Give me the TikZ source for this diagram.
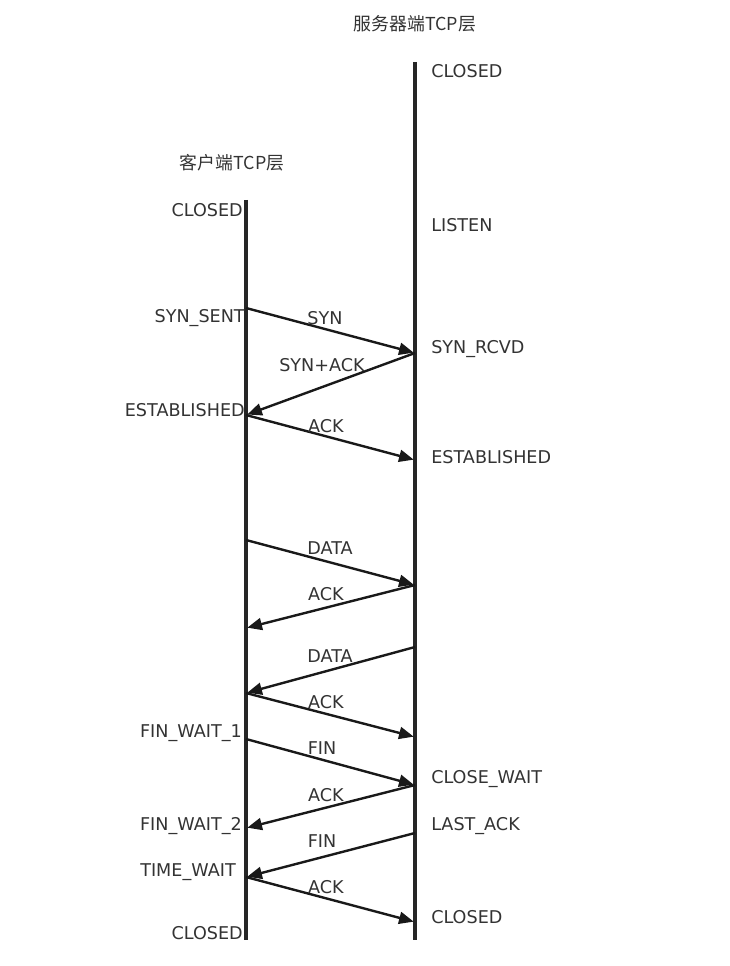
\documentclass[tikz,border=0pt]{standalone}
\usepackage{fontspec}
\setmainfont{DejaVu Sans}
\newfontfamily\cjk{Noto Sans CJK SC}
\usetikzlibrary{arrows.meta}
\begin{document}
\begin{tikzpicture}[x=0.75pt,y=-0.75pt,
  life/.style={line width=2.6pt,color=black!85},
  msg/.style={line width=1.8pt,color=black!90,-{Triangle[length=11pt,width=9pt]},shorten >=1pt},
  lbl/.style={font=\fontsize{13.2}{15}\selectfont,text=black!80,inner sep=0pt},
  st/.style={lbl},
  ttl/.style={font=\cjk\fontsize{13.4}{15}\selectfont,text=black!80,inner sep=0pt}]
\useasboundingbox (0,0) rectangle (730,966);
% titles
\node[ttl] (ts) at (415,24) {服务器端TCP层};
\node[ttl] (tc) at (232,163) {客户端TCP层};
% lifelines
\coordinate (ctop) at (246,200);
\coordinate (cbot) at (246,940);
\coordinate (stop) at (415,62);
\coordinate (sbot) at (415,940);
\draw[life] (ctop) -- (cbot);
\draw[life] (stop) -- (sbot);
% points on lifelines
\foreach \y in {308,415,540,628,693,739,828,877} \coordinate (c\y) at (246,\y);
\foreach \y in {353,460,585,647,737,785,833,922} \coordinate (s\y) at (415,\y);
% messages
\draw[msg] (c308) -- (s353);
\draw[msg] (s353) -- (c415);
\draw[msg] (c415) -- (s460);
\draw[msg] (c540) -- (s585);
\draw[msg] (s585) -- (c628);
\draw[msg] (s647) -- (c693);
\draw[msg] (c693) -- (s737);
\draw[msg] (c739) -- (s785);
\draw[msg] (s785) -- (c828);
\draw[msg] (s833) -- (c877);
\draw[msg] (c877) -- (s922);
% message labels
\node[lbl] (m1) at (325,318) {SYN};
\node[lbl] (m2) at (322,365) {SYN+ACK};
\node[lbl] (m3) at (326,426) {ACK};
\node[lbl] (m4) at (330,548) {DATA};
\node[lbl] (m5) at (326,594) {ACK};
\node[lbl] (m6) at (330,656) {DATA};
\node[lbl] (m7) at (326,702) {ACK};
\node[lbl] (m8) at (322,748) {FIN};
\node[lbl] (m9) at (326,795) {ACK};
\node[lbl] (m10) at (322,841) {FIN};
\node[lbl] (m11) at (326,887) {ACK};
% server states
\node[st,anchor=west] (s1) at (431,71) {CLOSED};
\node[st,anchor=west] (s2) at (431,225) {LISTEN};
\node[st,anchor=west] (s3) at (431,349) {SYN\_RCVD};
\node[st,anchor=west] (s4) at (431,457) {ESTABLISHED};
\node[st,anchor=west] (s5) at (431,779) {CLOSE\_WAIT};
\node[st,anchor=west] (s6) at (431,826) {LAST\_ACK};
\node[st,anchor=west] (s7) at (431,917) {CLOSED};
% client states
\node[st,anchor=east] (k1) at (243,210) {CLOSED};
\node[st,anchor=east] (k2) at (245,318) {SYN\_SENT};
\node[st,anchor=east] (k3) at (245,410) {ESTABLISHED};
\node[st,anchor=east] (k4) at (242,733) {FIN\_WAIT\_1};
\node[st,anchor=east] (k5) at (242,826) {FIN\_WAIT\_2};
\node[st,anchor=east] (k6) at (236,872) {TIME\_WAIT};
\node[st,anchor=east] (k7) at (243,933) {CLOSED};
\end{tikzpicture}
\end{document}
